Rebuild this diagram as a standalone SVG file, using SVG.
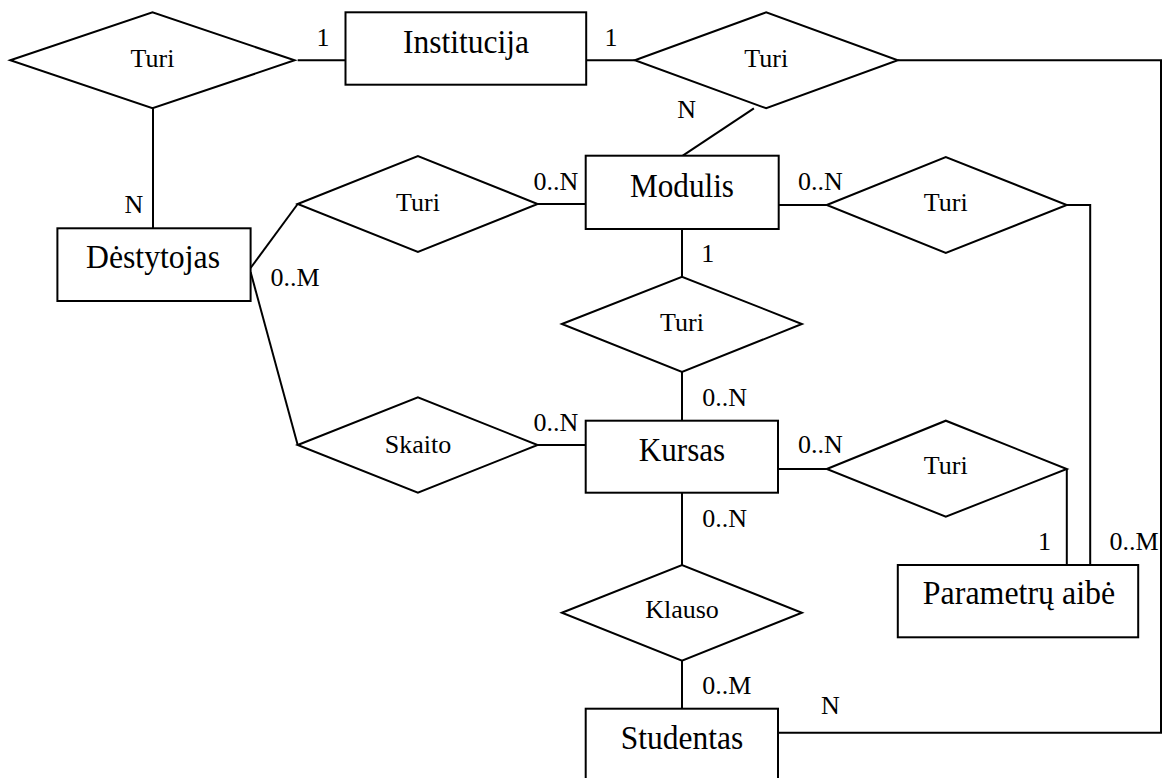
<svg xmlns="http://www.w3.org/2000/svg" width="1162" height="778" viewBox="0 0 1162 778">
  <style>
    .ent { fill: #fff; stroke: #000; stroke-width: 2; }
    .rel { fill: #fff; stroke: #000; stroke-width: 2; stroke-linejoin: miter; }
    .conn { fill: none; stroke: #000; stroke-width: 2; }
    .big { font-family: "Liberation Serif", "Times New Roman", serif; font-size: 33px; text-anchor: middle; fill: #000; }
    .small { font-family: "Liberation Serif", "Times New Roman", serif; font-size: 26px; text-anchor: middle; fill: #000; }
  </style>
  <rect width="1162" height="778" fill="#fff"/>

  <!-- connectors -->
  <g id="connectors">
    <line class="conn" x1="297.7" y1="60.3" x2="345.5" y2="60.3"/>
    <line class="conn" x1="153" y1="108.3" x2="153" y2="228.3"/>
    <line class="conn" x1="586.2" y1="60.3" x2="634.9" y2="60.3"/>
    <polyline class="conn" points="897.8,60.3 1161,60.3 1161,732.7 778,732.7"/>
    <line class="conn" x1="753.9" y1="108.3" x2="682.8" y2="155.7"/>
    <line class="conn" x1="250.6" y1="268" x2="297.7" y2="204"/>
    <line class="conn" x1="250.6" y1="272" x2="297.7" y2="445"/>
    <line class="conn" x1="537.6" y1="204" x2="585.7" y2="204"/>
    <line class="conn" x1="778.7" y1="205" x2="826.8" y2="205"/>
    <polyline class="conn" points="1066.8,205 1090.2,205 1090.2,565"/>
    <line class="conn" x1="682" y1="229" x2="682" y2="276.7"/>
    <line class="conn" x1="682" y1="372" x2="682" y2="420.7"/>
    <line class="conn" x1="537.6" y1="445" x2="585.7" y2="445"/>
    <line class="conn" x1="778" y1="469" x2="826.8" y2="469"/>
    <line class="conn" x1="1066.8" y1="469" x2="1066.8" y2="565"/>
    <line class="conn" x1="682" y1="492.7" x2="682" y2="565"/>
    <line class="conn" x1="682" y1="660.7" x2="682" y2="708.7"/>
  </g>

  <!-- cardinality labels -->
  <g id="cardinalities">
    <text class="small" x="323" y="45.7">1</text>
    <text class="small" x="611" y="45.7">1</text>
    <text class="small" x="686.7" y="118.3">N</text>
    <text class="small" x="134" y="213">N</text>
    <text class="small" x="556" y="190">0..N</text>
    <text class="small" x="295" y="286">0..M</text>
    <text class="small" x="820.5" y="190">0..N</text>
    <text class="small" x="707.8" y="261.7">1</text>
    <text class="small" x="724.7" y="406">0..N</text>
    <text class="small" x="556" y="430.7">0..N</text>
    <text class="small" x="820.5" y="453.3">0..N</text>
    <text class="small" x="724.7" y="526.7">0..N</text>
    <text class="small" x="1044.5" y="550">1</text>
    <text class="small" x="1134" y="550">0..M</text>
    <text class="small" x="726.8" y="694">0..M</text>
    <text class="small" x="830.3" y="714">N</text>
  </g>

  <!-- entities -->
  <g id="institucija">
    <rect class="ent" x="345.5" y="12.3" width="240.7" height="72.4"/>
    <text class="big" x="466" y="53.3" textLength="126" lengthAdjust="spacingAndGlyphs">Institucija</text>
  </g>
  <g id="destytojas">
    <rect class="ent" x="57.4" y="228.3" width="193.2" height="72.7"/>
    <text class="big" x="153" y="268.3" textLength="134" lengthAdjust="spacingAndGlyphs">Dėstytojas</text>
  </g>
  <g id="modulis">
    <rect class="ent" x="585.7" y="155.7" width="193" height="73.3"/>
    <text class="big" x="682" y="197" textLength="104" lengthAdjust="spacingAndGlyphs">Modulis</text>
  </g>
  <g id="kursas">
    <rect class="ent" x="585.7" y="420.7" width="192.3" height="72"/>
    <text class="big" x="682" y="460.5" textLength="86.4" lengthAdjust="spacingAndGlyphs">Kursas</text>
  </g>
  <g id="parametru-aibe">
    <rect class="ent" x="897.8" y="565" width="240.4" height="72.3"/>
    <text class="big" x="1019" y="603.5" textLength="192.3" lengthAdjust="spacingAndGlyphs">Parametrų aibė</text>
  </g>
  <g id="studentas">
    <rect class="ent" x="585.7" y="708.7" width="192.3" height="72.5"/>
    <text class="big" x="682" y="749" textLength="122.3" lengthAdjust="spacingAndGlyphs">Studentas</text>
  </g>

  <!-- relationships -->
  <g id="turi-institucija-destytojas">
    <polygon class="rel" points="10.3,60.3 152.5,12.3 294.6,60.3 152.5,108.3"/>
    <text class="small" x="152.5" y="66.7">Turi</text>
  </g>
  <g id="turi-institucija-modulis">
    <polygon class="rel" points="634.9,60.3 766.2,12.3 897.8,60.3 766.2,108.3"/>
    <text class="small" x="766.2" y="66.7">Turi</text>
  </g>
  <g id="turi-destytojas-modulis">
    <polygon class="rel" points="297.7,204 417.9,156 537.6,204 417.9,252"/>
    <text class="small" x="418" y="210.7">Turi</text>
  </g>
  <g id="turi-modulis-parametrai">
    <polygon class="rel" points="826.8,205 945.8,157 1066.8,205 945.8,253"/>
    <text class="small" x="945.8" y="210.7">Turi</text>
  </g>
  <g id="turi-modulis-kursas">
    <polygon class="rel" points="561.9,324 682,276.7 801.9,324 682,372"/>
    <text class="small" x="682" y="330.7">Turi</text>
  </g>
  <g id="skaito">
    <polygon class="rel" points="297.7,445 417.9,397.3 537.6,445 417.9,492.7"/>
    <text class="small" x="418" y="452.7">Skaito</text>
  </g>
  <g id="turi-kursas-parametrai">
    <polygon class="rel" points="826.8,469 945.8,420.7 1066.8,469 945.8,516.7"/>
    <text class="small" x="945.8" y="474">Turi</text>
  </g>
  <g id="klauso">
    <polygon class="rel" points="561.9,612.7 682,565 801.9,612.7 682,660.7"/>
    <text class="small" x="682" y="618.3">Klauso</text>
  </g>
</svg>
